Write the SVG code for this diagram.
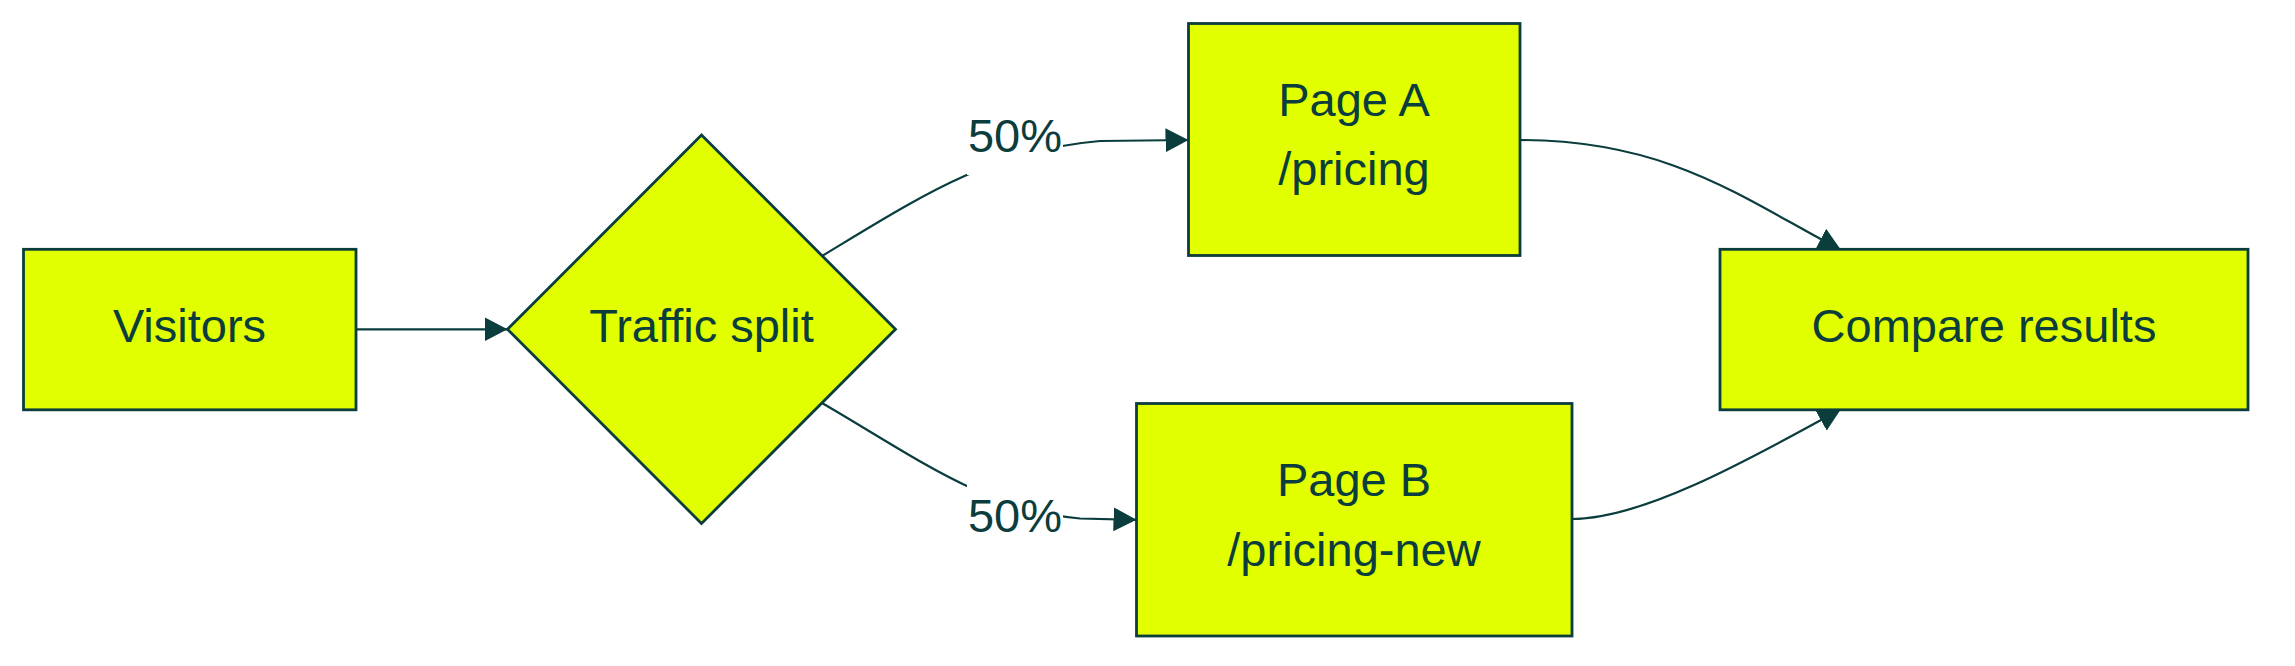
<svg xmlns="http://www.w3.org/2000/svg" width="2295" height="666" viewBox="0 0 2295 666">
<style>
.node{fill:#e2ff00;stroke:#0a3d3c;stroke-width:2.8}
.lbl{font-family:"Liberation Sans",Arial,sans-serif;font-size:47px;fill:#0a3d3c;text-anchor:middle}
.edge{fill:none;stroke:#0a3d3c;stroke-width:2.2;marker-end:url(#arrow)}
.lblbg{fill:#ffffff;stroke:none}
</style>
<defs>
<marker id="arrow" markerUnits="userSpaceOnUse" viewBox="0 0 23 24" refX="23" refY="12" markerWidth="23" markerHeight="24" orient="auto">
<path d="M0,0 L23,12 L0,24 z" fill="#0a3d3c"/>
</marker>
</defs>
<rect width="2295" height="666" fill="#ffffff"/>
<g id="connectors">
<path class="edge" d="M356,329.3 L507.5,329.3"/>
<path class="edge" d="M822,256 C920,197 990,150 1100,141 L1188.5,140"/>
<path class="edge" d="M822,403 C915,457 985,510 1080,518.5 L1136.5,519.8"/>
<path class="edge" d="M1520,140 C1670,140 1745,200 1841,250"/>
<path class="edge" d="M1572,519 C1640,519 1740,465 1841,409"/>
</g>
<g id="edge-labels">
<g id="label-a">
<rect class="lblbg" x="967" y="97" width="96" height="78"/>
<text class="lbl" x="1015" y="152">50%</text>
</g>
<g id="label-b">
<rect class="lblbg" x="967" y="477" width="96" height="78"/>
<text class="lbl" x="1015" y="532">50%</text>
</g>
</g>
<g id="visitors">
<rect class="node" x="23.5" y="249.3" width="332.5" height="160.5"/>
<text class="lbl" x="189.5" y="342">Visitors</text>
</g>
<g id="traffic-split">
<polygon class="node" points="701.5,135 895.5,329.3 701.5,523.5 507.5,329.3"/>
<text class="lbl" x="701.5" y="342">Traffic split</text>
</g>
<g id="page-a">
<rect class="node" x="1188.5" y="23.5" width="331.5" height="232"/>
<text class="lbl" x="1354" y="116">Page A</text>
<text class="lbl" x="1354" y="185">/pricing</text>
</g>
<g id="page-b">
<rect class="node" x="1136.5" y="403.5" width="435.5" height="232.5"/>
<text class="lbl" x="1354" y="496">Page B</text>
<text class="lbl" x="1354" y="566">/pricing-new</text>
</g>
<g id="compare-results">
<rect class="node" x="1720" y="249.3" width="528" height="160.5"/>
<text class="lbl" x="1984" y="342">Compare results</text>
</g>
</svg>
